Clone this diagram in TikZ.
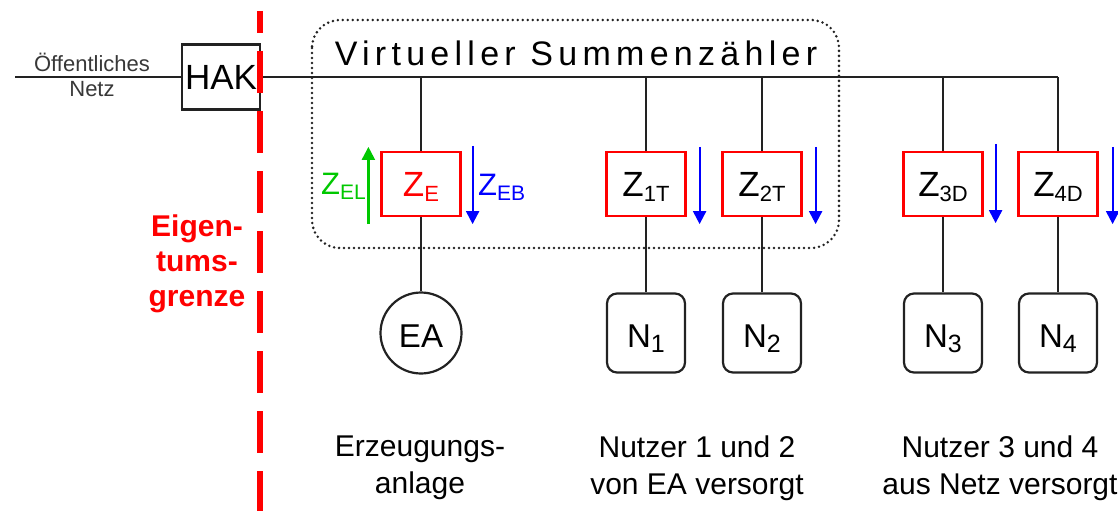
\documentclass[tikz,border=0pt]{standalone}
\usepackage{fontspec}
\setmainfont{Liberation Sans}
\newfontfamily\spacedfont[LetterSpace=15.5]{Liberation Sans}
\usetikzlibrary{arrows.meta}

\definecolor{zred}{RGB}{255,0,0}
\definecolor{zgreen}{RGB}{0,200,0}
\definecolor{zblue}{RGB}{0,0,255}
\definecolor{linegray}{RGB}{34,34,34}

\newcommand{\fsz}[2]{\fontsize{#1}{#2}\selectfont}
\newcommand{\lowidx}[2][22]{\raisebox{-5pt}{\fsz{#1}{#1}#2}}

\tikzset{
    leitung/.style={draw=linegray, line width=2.2pt},
    zaehler/.style={draw=zred, line width=2.2pt, minimum width=79pt, minimum height=64pt,
        inner sep=0pt, text height=24pt, text depth=0pt, font=\fsz{35}{35}},
    nutzer/.style={draw=linegray, line width=2.2pt, rounded corners=10pt, minimum width=78pt,
        minimum height=79pt, inner sep=0pt, text height=28pt, text depth=0pt, font=\fsz{33}{33}},
    flow/.style={line width=2.2pt, -{Triangle[width=13pt,length=13pt]}},
    beschriftung/.style={align=center, inner sep=0pt, font=\fsz{30}{37}},
}

\begin{document}
\begin{tikzpicture}[x=1pt,y=-1pt]
    \useasboundingbox (0,0) rectangle (1118,511);

    % Netzanschluss
    \node[leitung, minimum width=78pt, minimum height=65pt, inner sep=0pt, font=\fsz{35}{35}] (hak) at (221,77) {HAK};
    \coordinate (netz) at (15,77);
    \node[align=center, inner sep=0pt, text=linegray!90, font=\fsz{22}{25}] (oeff) at (92,75) {Öffentliches\\Netz};
    \draw[leitung] (netz) -- (hak.west);

    % Zaehler
    \node[zaehler, text=zred] (ze) at (421,184) {Z\lowidx{E}};
    \node[zaehler] (z1) at (646,184) {Z\lowidx{1T}};
    \node[zaehler] (z2) at (762,184) {Z\lowidx{2T}};
    \node[zaehler] (z3) at (943,184) {Z\lowidx{3D}};
    \node[zaehler] (z4) at (1058,184) {Z\lowidx{4D}};

    \draw[leitung] (hak.east) -- (hak.east -| z4.north);
    \foreach \z in {ze,z1,z2,z3,z4}
        \draw[leitung] (\z.north) -- (\z.north |- hak.east);

    % Erzeugung und Nutzer
    \node[circle, leitung, minimum size=81pt, inner sep=0pt, text height=28pt, text depth=0pt, font=\fsz{33}{33}] (ea) at (421,333) {EA};
    \node[nutzer] (n1) at (646,333) {N\lowidx[25]{1}};
    \node[nutzer] (n2) at (762,333) {N\lowidx[25]{2}};
    \node[nutzer] (n3) at (943,333) {N\lowidx[25]{3}};
    \node[nutzer] (n4) at (1058,333) {N\lowidx[25]{4}};

    \draw[leitung] (ze) -- (ea);
    \draw[leitung] (z1) -- (n1);
    \draw[leitung] (z2) -- (n2);
    \draw[leitung] (z3) -- (n3);
    \draw[leitung] (z4) -- (n4);

    % Energiefluss
    \draw[flow, zgreen] ([xshift=-12pt,yshift=-7pt]ze.south west) -- ([xshift=-12pt,yshift=4pt]ze.north west);
    \draw[flow, zblue] ([xshift=11pt,yshift=5pt]ze.north east) -- ([xshift=11pt,yshift=-7pt]ze.south east);
    \draw[flow, zblue] ([xshift=13pt,yshift=4pt]z1.north east) -- ([xshift=13pt,yshift=-7pt]z1.south east);
    \draw[flow, zblue] ([xshift=13pt,yshift=4pt]z2.north east) -- ([xshift=13pt,yshift=-7pt]z2.south east);
    \draw[flow, zblue] ([xshift=12pt,yshift=7pt]z3.north east) -- ([xshift=12pt,yshift=-6pt]z3.south east);
    \draw[flow, zblue] ([xshift=14pt,yshift=4pt]z4.north east) -- ([xshift=14pt,yshift=-7pt]z4.south east);
    \node[anchor=base east, inner sep=0pt, text=zgreen, font=\fsz{31}{31}] (zel) at (366,194) {Z\lowidx[21]{EL}};
    \node[anchor=base west, inner sep=0pt, text=zblue, font=\fsz{31}{31}] (zeb) at (478,195) {Z\lowidx[21]{EB}};

    % Virtueller Summenzaehler
    \draw[linegray, line width=2.8pt, line cap=round, dash pattern=on 0pt off 5pt, rounded corners=28pt] (312,20) rectangle (839,248);
    \node[anchor=base, inner sep=0pt, font=\spacedfont\fsz{34}{34}] (summe) at (576,65) {Virtueller Summenzähler};

    % Eigentumsgrenze
    \coordinate (grenzeoben) at (260,11);
    \coordinate (grenzeunten) at (260,511);
    \draw[zred, line width=5.5pt, dash pattern=on 42pt off 18pt, dash phase=20pt] (grenzeoben) -- (grenzeunten);
    \node[align=center, inner sep=0pt, text=zred, font=\bfseries\fsz{30}{35}] (grenze) at (197,264) {Eigen-\\tums-\\grenze};

    % Beschriftung
    \node[beschriftung] (lea) at (420,468) {Erzeugungs-\\anlage};
    \node[beschriftung] (l12) at (697,468) {Nutzer 1 und 2\\von EA versorgt};
    \node[beschriftung] (l34) at (1000,468) {Nutzer 3 und 4\\aus Netz versorgt};
\end{tikzpicture}
\end{document}
